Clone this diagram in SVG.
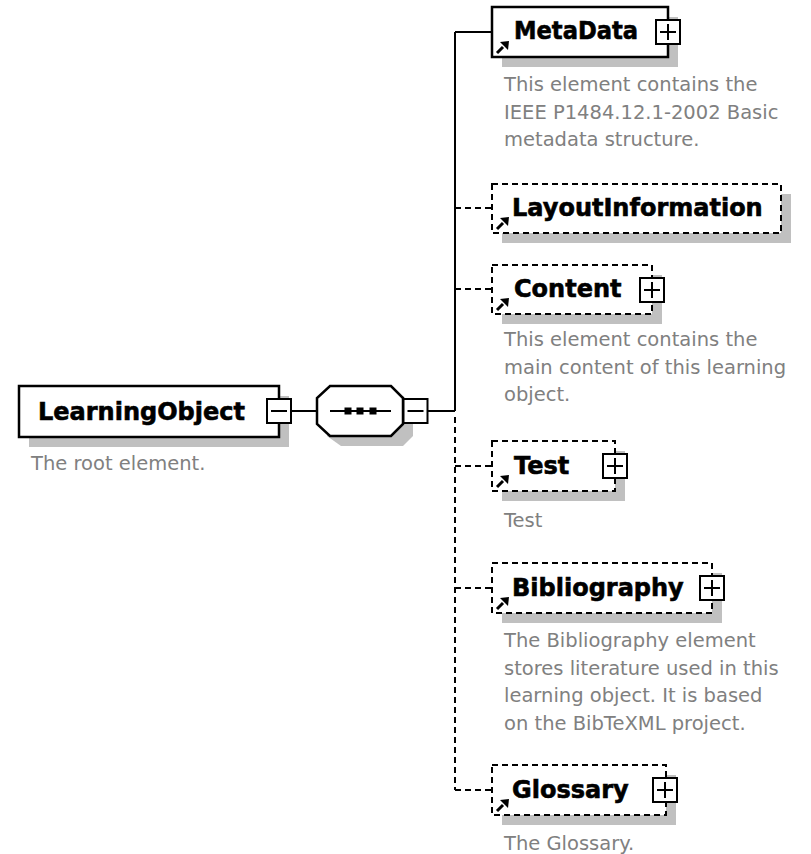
<svg xmlns="http://www.w3.org/2000/svg" xmlns:xlink="http://www.w3.org/1999/xlink" width="811" height="854" viewBox="0 0 811 854">
<style>
.bg{fill:#ffffff}
.shadow{fill:#c0c0c0;stroke:none}
.box{fill:#ffffff;stroke:#000000;stroke-width:2.5}
.dbox{fill:#ffffff;stroke:#000000;stroke-width:2;stroke-dasharray:6 4}
.btn{fill:#ffffff;stroke:#000000;stroke-width:2}
.sign{stroke:#000000;stroke-width:2;fill:none}
.lbl{font-family:"DejaVu Sans",Verdana,sans-serif;font-weight:bold;font-size:24px;fill:#000000;stroke:#000000;stroke-width:0.6}
.desc{font-family:"DejaVu Sans",Verdana,sans-serif;font-size:19.5px;fill:#808080}
.conn{stroke:#000000;stroke-width:2;fill:none}
.dconn{stroke:#000000;stroke-width:2;fill:none;stroke-dasharray:6 4}
</style>
<defs>
<g id="refIcon">
<line x1="5" y1="-4" x2="11" y2="-10" stroke="#000" stroke-width="3"/>
<polygon points="17,-16 8,-15 16,-7" fill="#000"/>
</g>
<g id="plus">
<rect class="btn" x="-12" y="-12" width="24" height="24"/>
<path class="sign" d="M-8,0 H8 M0,-8 V8"/>
</g>
<g id="minus">
<rect class="btn" x="-12" y="-12" width="24" height="24"/>
<path class="sign" d="M-8,0 H8"/>
</g>
</defs>
<rect class="bg" x="0" y="0" width="811" height="854"/>

<g id="connectors">
<line class="conn" x1="291" y1="411" x2="317" y2="411"/>
<line class="conn" x1="428" y1="411" x2="455" y2="411"/>
<line class="conn" x1="455" y1="32" x2="455" y2="411"/>
<line class="dconn" x1="455" y1="417" x2="455" y2="790"/>
<line class="conn" x1="455" y1="32" x2="492" y2="32"/>
<line class="dconn" x1="455" y1="208" x2="492" y2="208"/>
<line class="dconn" x1="455" y1="289" x2="492" y2="289"/>
<line class="dconn" x1="455" y1="466" x2="492" y2="466"/>
<line class="dconn" x1="455" y1="588" x2="492" y2="588"/>
<line class="dconn" x1="455" y1="790" x2="492" y2="790"/>
</g>

<g id="LearningObject">
<rect class="shadow" x="29" y="396" width="260" height="51"/>
<rect class="box" x="19" y="386" width="260" height="51"/>
<text class="lbl" x="38" y="420">LearningObject</text>
<use xlink:href="#minus" href="#minus" x="279" y="411"/>
<text class="desc" x="31" y="470">The root element.</text>
</g>

<g id="sequence">
<polygon class="shadow" points="341,396 403,396 413,406 413,436 403,446 341,446 327,436 327,406"/>
<polygon class="box" points="330,386 391,386 403,398 403,424 391,436 330,436 317,424 317,398"/>
<line class="conn" x1="330" y1="411" x2="391" y2="411"/>
<rect x="344.5" y="407.5" width="7" height="7" fill="#000"/>
<rect x="356.5" y="407.5" width="7" height="7" fill="#000"/>
<rect x="369.5" y="407.5" width="7" height="7" fill="#000"/>
<use xlink:href="#minus" href="#minus" x="415.5" y="411"/>
</g>

<g id="MetaData">
<rect class="shadow" x="502" y="17" width="176" height="50"/>
<rect class="box" x="492" y="7" width="176" height="50"/>
<text class="lbl" x="514" y="39" textLength="124" lengthAdjust="spacingAndGlyphs">MetaData</text>
<use xlink:href="#refIcon" href="#refIcon" x="492" y="57"/>
<use xlink:href="#plus" href="#plus" x="668" y="32"/>
<text class="desc" x="504" y="91">This element contains the</text>
<text class="desc" x="504" y="118.5">IEEE P1484.12.1-2002 Basic</text>
<text class="desc" x="504" y="146">metadata structure.</text>
</g>

<g id="LayoutInformation">
<rect class="shadow" x="502" y="194" width="289" height="49"/>
<rect class="dbox" x="492" y="184" width="289" height="49"/>
<text class="lbl" x="512" y="216">LayoutInformation</text>
<use xlink:href="#refIcon" href="#refIcon" x="492" y="233"/>
</g>

<g id="Content">
<rect class="shadow" x="502" y="275" width="160" height="49"/>
<rect class="dbox" x="492" y="265" width="160" height="49"/>
<text class="lbl" x="514" y="297">Content</text>
<use xlink:href="#refIcon" href="#refIcon" x="492" y="314"/>
<use xlink:href="#plus" href="#plus" x="652" y="290"/>
<text class="desc" x="504" y="346">This element contains the</text>
<text class="desc" x="504" y="373.5">main content of this learning</text>
<text class="desc" x="504" y="401">object.</text>
</g>

<g id="Test">
<rect class="shadow" x="502" y="451" width="123" height="50"/>
<rect class="dbox" x="492" y="441" width="123" height="50"/>
<text class="lbl" x="514" y="474">Test</text>
<use xlink:href="#refIcon" href="#refIcon" x="492" y="491"/>
<use xlink:href="#plus" href="#plus" x="615" y="466"/>
<text class="desc" x="504" y="527">Test</text>
</g>

<g id="Bibliography">
<rect class="shadow" x="502" y="573" width="220" height="50"/>
<rect class="dbox" x="492" y="563" width="220" height="50"/>
<text class="lbl" x="512" y="596">Bibliography</text>
<use xlink:href="#refIcon" href="#refIcon" x="492" y="613"/>
<use xlink:href="#plus" href="#plus" x="712" y="588"/>
<text class="desc" x="504" y="647">The Bibliography element</text>
<text class="desc" x="504" y="674.5">stores literature used in this</text>
<text class="desc" x="504" y="702">learning object. It is based</text>
<text class="desc" x="504" y="729.5">on the BibTeXML project.</text>
</g>

<g id="Glossary">
<rect class="shadow" x="502" y="775" width="174" height="50"/>
<rect class="dbox" x="492" y="765" width="174" height="50"/>
<text class="lbl" x="512" y="798">Glossary</text>
<use xlink:href="#refIcon" href="#refIcon" x="492" y="815"/>
<use xlink:href="#plus" href="#plus" x="665" y="790"/>
<text class="desc" x="504" y="850">The Glossary.</text>
</g>
</svg>
